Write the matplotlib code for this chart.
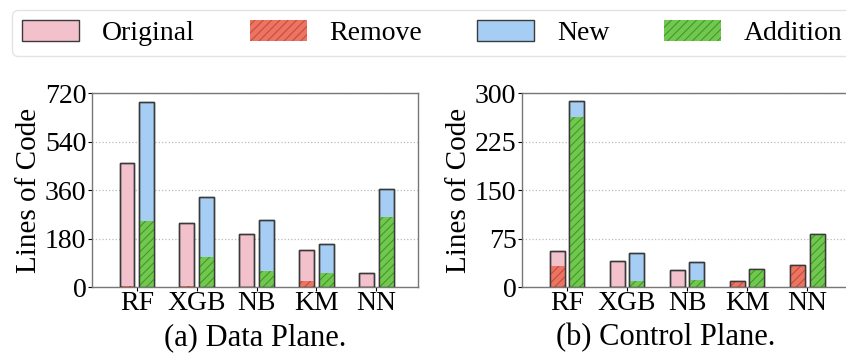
import numpy as np
import matplotlib.pyplot as plt
from matplotlib.patches import Patch

plt.rcParams["font.family"] = ["Liberation Serif", "DejaVu Serif"]
plt.rcParams["hatch.linewidth"] = 0.8

models = ["RF", "XGB", "NB", "KM", "NN"]

# data plane
dp_original = [460, 239, 197, 136, 54]
dp_remove = [3, 5, 0, 22, 0]
dp_new = [687, 333, 249, 159, 364]
dp_addition = [245, 111, 59, 54, 259]

# control plane
cp_original = [56, 40, 27, 9, 34]
cp_remove = [32, 0, 0, 9, 34]
cp_new = [287, 52, 39, 28, 82]
cp_addition = [263, 9, 11, 26, 80]

C_ORIG = "#f2c1cc"
C_REM = "#ec7463"
C_NEW = "#a6cdf4"
C_ADD = "#72c74e"
EDGE = "#3a3a3a"

fig = plt.figure(figsize=(8.46, 3.58), dpi=100)
ax1 = fig.add_axes([0.1087, 0.198, 0.385, 0.542])
ax2 = fig.add_axes([0.617, 0.198, 0.386, 0.542])

x = np.arange(len(models))
w = 0.25
off = 0.165


def draw(ax, orig, rem, new, add, ymax, ticks):
    ax.bar(x - off, orig, w, color=C_ORIG, edgecolor=EDGE, linewidth=1.0, zorder=2)
    ax.bar(x - off, rem, w, color=C_REM, edgecolor="#c94a3c", hatch="////",
           linewidth=0, zorder=3)
    ax.bar(x + off, new, w, color=C_NEW, edgecolor=EDGE, linewidth=1.0, zorder=2)
    ax.bar(x + off, add, w, color=C_ADD, edgecolor="#3f9a2b", hatch="////",
           linewidth=0, zorder=3)
    # redraw outlines on top
    ax.bar(x - off, orig, w, fill=False, edgecolor=EDGE, linewidth=1.0, zorder=4)
    ax.bar(x + off, new, w, fill=False, edgecolor=EDGE, linewidth=1.0, zorder=4)
    ax.set_xlim(-0.75, 4.69)
    ax.set_ylim(0, ymax)
    ax.set_yticks(ticks)
    ax.set_xticks(x)
    ax.set_xticklabels(models)
    ax.grid(axis="y", linestyle=":", color="#bbbbbb", linewidth=0.9, zorder=0)
    ax.set_axisbelow(True)
    for s in ax.spines.values():
        s.set_color("#777777")
        s.set_linewidth(1.0)
    ax.tick_params(axis="both", labelsize=20, colors="#000000", length=3,
                   width=0.8, pad=1)
    ax.tick_params(axis="x", pad=0)
    ax.set_ylabel("Lines of Code", fontsize=21, labelpad=2)


draw(ax1, dp_original, dp_remove, dp_new, dp_addition, 720, [0, 180, 360, 540, 720])
draw(ax2, cp_original, cp_remove, cp_new, cp_addition, 300, [0, 75, 150, 225, 300])

fig.text(0.302, 0.015, "(a) Data Plane.", ha="center", va="bottom", fontsize=22)
fig.text(0.787, 0.015, "(b) Control Plane.", ha="center", va="bottom", fontsize=22)

handles = [
    Patch(facecolor=C_ORIG, edgecolor=EDGE, linewidth=1.0),
    Patch(facecolor=C_REM, edgecolor="#c94a3c", hatch="////", linewidth=0),
    Patch(facecolor=C_NEW, edgecolor=EDGE, linewidth=1.0),
    Patch(facecolor=C_ADD, edgecolor="#3f9a2b", hatch="////", linewidth=0),
]
labels = ["Original", "Remove", "New", "Addition"]
fig.legend(handles, labels, loc="upper left", bbox_to_anchor=(0.0142, 0.972),
           borderaxespad=0, ncol=4, fontsize=20, frameon=True, fancybox=True,
           edgecolor="#dddddd", handlelength=2.05, handleheight=0.76,
           columnspacing=1.97, handletextpad=0.83, borderpad=0.36)

fig.savefig("out.png", dpi=100)
